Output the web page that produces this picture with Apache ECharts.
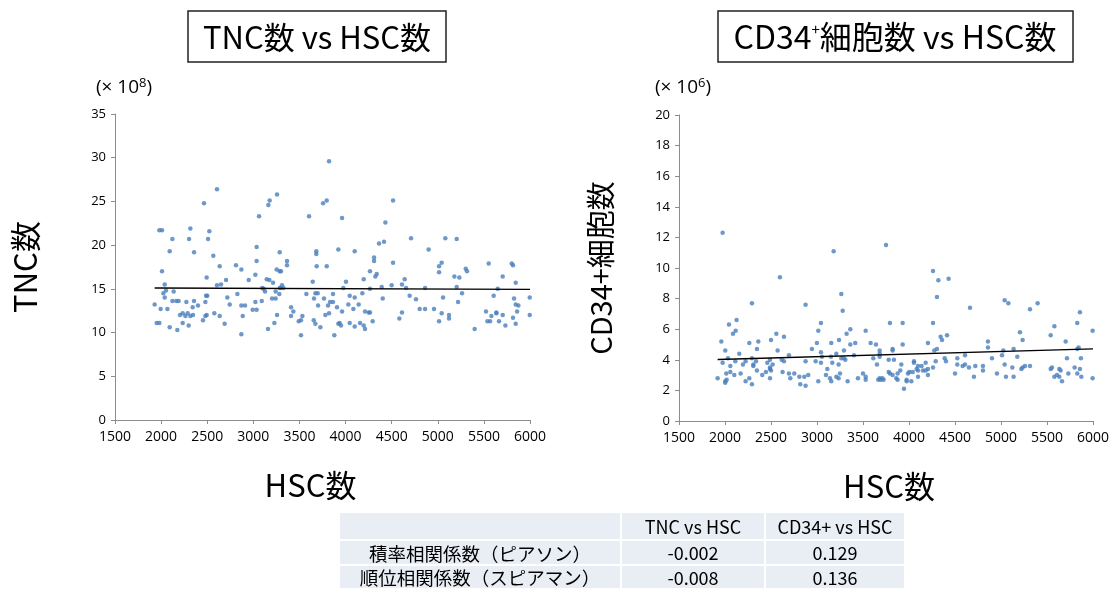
<!DOCTYPE html>
<html><head><meta charset="utf-8">
<script src="https://cdn.jsdelivr.net/npm/echarts@6/dist/echarts.min.js"></script>
<style>html,body{margin:0;padding:0;background:#fff}#c{width:1115px;height:590px}</style>
</head><body><div id="c"></div>
<script>
// ---- Data: TNC vs HSC ----
const hscA = [3821,2606,2465,3163,3177,3257,3062,3604,3756,3796,1981,2010,2317,2523,2122,2303,2509,2093,2357,3036,3286,3683,3683,2566,2635,2812,2870,3036,3365,3365,3687,3796,2010,2494,3022,3253,3286,3300,2950,3145,3174,3214,3644,2039,2704,2650,2606,3097,3112,3127,3311,3297,3326,3286,2053,2024,2039,2136,2501,2487,2718,2827,3242,3282,3203,3242,3575,3658,3673,3698,1930,2122,2165,2190,2274,2357,2480,2400,2342,2744,2870,2910,3022,3091,2993,3036,3409,3434,3702,3810,3832,1995,2068,2205,2234,2263,2288,2317,2346,2299,2494,2480,2577,2635,2454,2689,2885,3257,3532,3409,3492,3517,3655,3673,3781,3821,3228,1952,1981,2234,2093,2176,3159,3727,2870,3517,
3766,3864,3864,3878,3922,3936,3951,3962,4515,4432,4363,4417,3922,4099,4710,5082,5205,4901,4309,4309,4515,5042,5014,5014,5552,5802,5816,4265,4338,4323,5303,5317,5704,5180,5234,4197,4641,4612,4005,5845,3976,4265,4392,4500,4656,4862,5205,5650,4045,4099,4182,4403,4695,4764,5057,5263,5220,5606,5827,5997,4030,4142,3907,4085,3962,4211,4251,4265,4612,4804,4862,4959,5042,5122,5122,5523,5581,5635,5635,5704,5845,5874,5860,5816,5997,4045,4157,4099,4197,4211,4294,4583,5014,5538,5567,5664,5733,5845,5400];
const tncA = [29.6,26.4,24.8,24.6,25.1,25.8,23.3,23.3,24.8,25.1,21.7,21.7,21.9,21.6,20.7,20.7,20.7,19.3,19.2,19.8,19.2,19.3,19.0,18.8,17.6,17.7,17.2,18.2,18.2,17.7,17.6,17.6,17.0,16.3,16.6,17.2,17.0,17.0,16.0,16.1,16.0,15.7,15.8,15.5,16.0,15.5,15.4,15.1,15.0,14.7,15.4,15.1,15.1,15.1,14.8,14.5,14.0,14.7,14.2,14.2,14.0,14.4,14.7,14.4,13.9,13.9,14.4,13.9,14.5,14.5,13.2,13.6,13.6,13.6,13.5,13.6,13.5,13.1,12.9,13.2,13.1,13.1,13.5,13.6,12.6,12.6,12.9,12.4,13.1,13.1,13.5,12.7,12.7,12.0,12.2,11.9,12.2,11.9,12.0,10.8,12.0,11.9,12.2,11.9,11.4,11.0,11.9,12.0,11.9,11.9,11.3,11.4,11.4,11.0,12.0,12.2,11.1,11.1,11.1,11.1,10.6,10.3,10.4,10.6,9.8,9.7,
13.9,14.4,13.5,9.7,11.0,11.1,10.8,23.1,25.1,22.6,20.2,20.4,19.5,19.3,20.8,20.8,20.7,19.5,18.6,18.2,18.0,18.0,17.6,16.9,17.9,17.9,17.7,17.0,16.7,16.4,17.3,17.0,16.4,16.4,16.3,16.1,16.1,15.5,15.8,15.7,15.1,15.0,15.2,15.4,15.1,15.1,15.2,15.0,14.2,14.0,14.5,13.9,14.2,13.8,14.0,14.5,13.5,14.2,13.9,14.0,13.2,13.2,12.9,12.7,12.4,12.4,12.3,12.3,12.3,12.7,12.7,12.7,12.2,12.0,11.6,12.4,11.9,12.3,12.2,12.0,13.2,13.1,12.4,11.7,12.0,11.1,11.1,10.7,10.8,10.4,11.3,11.6,11.3,11.3,11.3,11.3,10.8,11.0,10.4];
const trendXA = [1930, 6000];
const trendYA = [15.1, 14.95];

// ---- Data: CD34+ vs HSC ----
const hscB = [1974,3181,3750,2597,3264,3279,2293,2876,2043,2126,2087,2116,2558,2641,3043,3014,3322,3362,3239,3529,3793,3931,1960,2264,2362,2500,2999,3155,3362,3416,3583,3641,3931,2003,2155,2347,2572,2945,3043,3054,3152,3210,3293,3264,3293,3308,3402,3681,3681,3681,3822,3822,2695,2032,2293,2616,2641,1974,2112,2224,2195,2308,2308,2337,2460,2489,2518,2489,2876,2985,3043,3166,3235,3612,3652,3779,3836,3916,2014,2058,2058,2170,2101,2347,2445,2489,2500,2405,2626,2695,2753,2710,2808,2862,2905,3112,3097,3141,3155,3210,3235,3250,3500,3529,3529,3445,3333,3014,1920,2003,2018,2003,2224,2264,2293,2489,2818,2876,3666,3681,3695,3710,3724,3779,3793,3822,3876,3862,3876,3905,3974,3974,3989,4003,3945,
4261,4319,4431,4304,4261,4663,5040,5080,5315,5398,5858,5829,5580,5540,5996,4344,4359,4413,4206,4275,4304,4858,4858,5206,5235,5025,5137,5011,5177,5703,5829,5844,5869,5717,4609,4525,4902,4054,4054,4181,4290,4388,4402,4525,4609,4583,4652,4721,4804,4804,5040,5123,5221,5235,5261,5315,5540,5554,5634,5648,5800,5858,5829,4098,4137,4083,4098,4152,4181,4206,4261,4040,4206,4098,4025,4500,4706,4956,5054,5137,5580,5609,5634,5663,5732,5873,5996];
const cd34B = [12.3,11.1,11.5,9.4,8.3,7.2,7.7,7.6,6.3,6.6,5.7,5.9,5.7,5.5,6.4,5.9,5.7,6.0,5.3,5.9,6.4,6.4,5.2,5.1,5.2,5.3,5.1,5.1,5.0,5.1,5.1,5.0,5.0,4.6,4.4,4.7,4.6,4.7,4.5,4.2,4.2,4.4,4.6,4.1,4.1,4.0,4.3,4.6,4.4,4.2,4.7,4.6,4.3,4.1,4.1,4.0,3.9,3.8,3.9,3.9,3.7,3.7,3.6,3.9,3.8,4.0,3.7,3.5,3.9,3.9,3.8,3.8,3.7,4.1,3.7,4.0,4.0,3.7,3.1,3.2,3.6,3.1,3.0,3.3,3.2,3.4,3.3,3.0,3.2,3.1,3.1,2.8,2.9,2.9,3.0,3.4,3.0,2.8,2.6,2.9,2.8,3.1,3.1,2.9,2.7,2.8,2.6,2.6,2.8,2.6,2.7,2.5,2.6,2.8,2.4,2.8,2.4,2.3,2.7,2.8,2.7,2.8,2.7,3.2,3.1,3.0,3.1,2.8,2.7,3.3,2.7,2.6,3.1,3.2,2.1,
9.8,9.2,9.3,8.1,6.4,7.4,7.9,7.7,7.3,7.7,7.1,6.4,6.2,5.6,5.9,5.5,5.3,5.6,5.1,4.6,4.7,5.2,4.8,5.8,5.3,4.6,4.7,4.3,4.2,5.2,4.7,4.8,4.1,4.1,4.3,4.1,4.1,3.9,3.8,3.8,3.9,4.1,3.9,3.7,3.7,3.6,3.5,3.6,3.6,3.3,3.7,3.5,3.4,3.5,3.6,3.6,3.4,3.5,3.4,3.3,3.5,3.4,3.1,3.6,3.6,3.4,3.3,3.3,3.3,3.4,3.5,3.2,3.0,2.9,2.6,3.1,2.9,3.1,2.9,2.9,2.9,3.0,2.9,2.6,3.1,2.9,2.8];
const trendXB = [1920, 6000];
const trendYB = [4.02, 4.72];

// ---- Axis ticks ----
const xMin = 1500, xMax = 6000, xStep = 500;
const yMaxA = 35, yStepA = 5;
const yMaxB = 20, yStepB = 2;

// ---- Table ----
const tableHeader = ['', 'TNC vs HSC', 'CD34+ vs HSC'];
const rowLabels = ['積率相関係数（ピアソン）', '順位相関係数（スピアマン）'];
const tncCorr = ['-0.002', '-0.008'];
const cd34Corr = ['0.129', '0.136'];

const zip = (xs, ys) => xs.map((x, i) => [x, ys[i]]);
const FONT = '"Noto Sans CJK JP", "Noto Sans", sans-serif';
const LBL = '"Open Sans", "Noto Sans", sans-serif';
const dotColor = '#4a7ebb';

function xAxisCfg(idx, pad) {
  return {
    gridIndex: idx, type: 'value', min: xMin, max: xMax, interval: xStep,
    axisLine: { show: true, lineStyle: { color: '#8c8c8c', width: 1 } },
    axisTick: { show: true, length: 4, lineStyle: { color: '#8c8c8c' } },
    axisLabel: { color: '#000', fontSize: 14, margin: 10, fontFamily: LBL, formatter: v => String(v) },
    splitLine: { show: false },
    name: 'HSC数', nameLocation: 'middle', nameGap: 50,
    nameTextStyle: { fontSize: 31, color: '#000', fontFamily: FONT, verticalAlign: 'top', padding: pad }
  };
}
function yAxisCfg(idx, max, step, name, gap, fs) {
  return {
    gridIndex: idx, type: 'value', min: 0, max: max, interval: step,
    axisLine: { show: true, lineStyle: { color: '#8c8c8c', width: 1 } },
    axisTick: { show: true, length: 4, lineStyle: { color: '#8c8c8c' } },
    axisLabel: { color: '#000', fontSize: 13, margin: 9, fontFamily: LBL },
    splitLine: { show: false },
    name: name, nameLocation: 'middle', nameGap: gap, nameRotate: 90,
    nameTextStyle: { fontSize: fs, color: '#000', fontFamily: FONT }
  };
}

// table graphics
const tblX = 340, colW = [280, 142, 138], gap = 2;
const rowY = [513, 541, 566], rowH = [26, 23, 22];
const graphics = [];
const colX = [tblX, tblX + colW[0] + gap, tblX + colW[0] + colW[1] + 2 * gap];
const cells = [tableHeader, [rowLabels[0], tncCorr[0], cd34Corr[0]], [rowLabels[1], tncCorr[1], cd34Corr[1]]];
for (let r = 0; r < 3; r++) {
  for (let c = 0; c < 3; c++) {
    graphics.push({ type: 'rect', shape: { x: colX[c], y: rowY[r], width: colW[c], height: rowH[r] },
      style: { fill: '#e9edf4' }, silent: true });
    if (cells[r][c]) {
      graphics.push({ type: 'text', x: colX[c] + colW[c] / 2, y: rowY[r] + rowH[r] / 2 + 1,
        style: { text: cells[r][c], fill: '#000', fontSize: c === 0 ? 18.5 : 18, fontFamily: FONT, align: 'center', verticalAlign: 'middle' } });
    }
  }
}
// title boxes
graphics.push({ type: 'rect', shape: { x: 188, y: 11, width: 258, height: 51 }, style: { fill: '#fff', stroke: '#222', lineWidth: 1.5 } });
graphics.push({ type: 'text', x: 317, y: 37, style: { text: 'TNC数 vs HSC数', fill: '#000', fontSize: 31, fontFamily: FONT, align: 'center', verticalAlign: 'middle' } });
graphics.push({ type: 'rect', shape: { x: 718, y: 11, width: 355, height: 51 }, style: { fill: '#fff', stroke: '#222', lineWidth: 1.5 } });
graphics.push({ type: 'text', x: 895, y: 37, style: {
  text: 'CD34{sup|+}細胞数 vs HSC数', fill: '#000', fontSize: 32, fontFamily: FONT, align: 'center', verticalAlign: 'middle',
  rich: { sup: { fontSize: 15, padding: [0, 0, 16, 0], fontFamily: FONT } } } });
// unit labels
graphics.push({ type: 'text', x: 124, y: 88, style: {
  text: '(× 10{sup|8})', fill: '#000', fontSize: 19, fontFamily: LBL, align: 'center', verticalAlign: 'middle',
  rich: { sup: { fontSize: 13, padding: [0, 0, 9, 0], fontFamily: LBL } } } });
graphics.push({ type: 'text', x: 683, y: 88, style: {
  text: '(× 10{sup|6})', fill: '#000', fontSize: 19, fontFamily: LBL, align: 'center', verticalAlign: 'middle',
  rich: { sup: { fontSize: 13, padding: [0, 0, 9, 0], fontFamily: LBL } } } });

const chart = echarts.init(document.getElementById('c'), null, { renderer: 'canvas' });
chart.setOption({
  animation: false,
  backgroundColor: '#fff',
  grid: [
    { left: 115, top: 114, width: 415, height: 306 },
    { left: 679, top: 115, width: 414, height: 306 }
  ],
  xAxis: [xAxisCfg(0, [0, 24, 0, 0]), xAxisCfg(1, [0, 0, 0, 6])],
  yAxis: [
    yAxisCfg(0, yMaxA, yStepA, 'TNC数', 74, 31),
    yAxisCfg(1, yMaxB, yStepB, 'CD34+細胞数', 64, 29)
  ],
  series: [
    { type: 'scatter', xAxisIndex: 0, yAxisIndex: 0, data: zip(hscA, tncA), symbolSize: 4.5, itemStyle: { color: dotColor }, z: 2 },
    { type: 'line', xAxisIndex: 0, yAxisIndex: 0, data: zip(trendXA, trendYA), symbol: 'none', lineStyle: { color: '#000', width: 1.3 }, z: 3 },
    { type: 'scatter', xAxisIndex: 1, yAxisIndex: 1, data: zip(hscB, cd34B), symbolSize: 4.5, itemStyle: { color: dotColor }, z: 2 },
    { type: 'line', xAxisIndex: 1, yAxisIndex: 1, data: zip(trendXB, trendYB), symbol: 'none', lineStyle: { color: '#000', width: 1.3 }, z: 3 }
  ],
  graphic: graphics
});
</script></body></html>
